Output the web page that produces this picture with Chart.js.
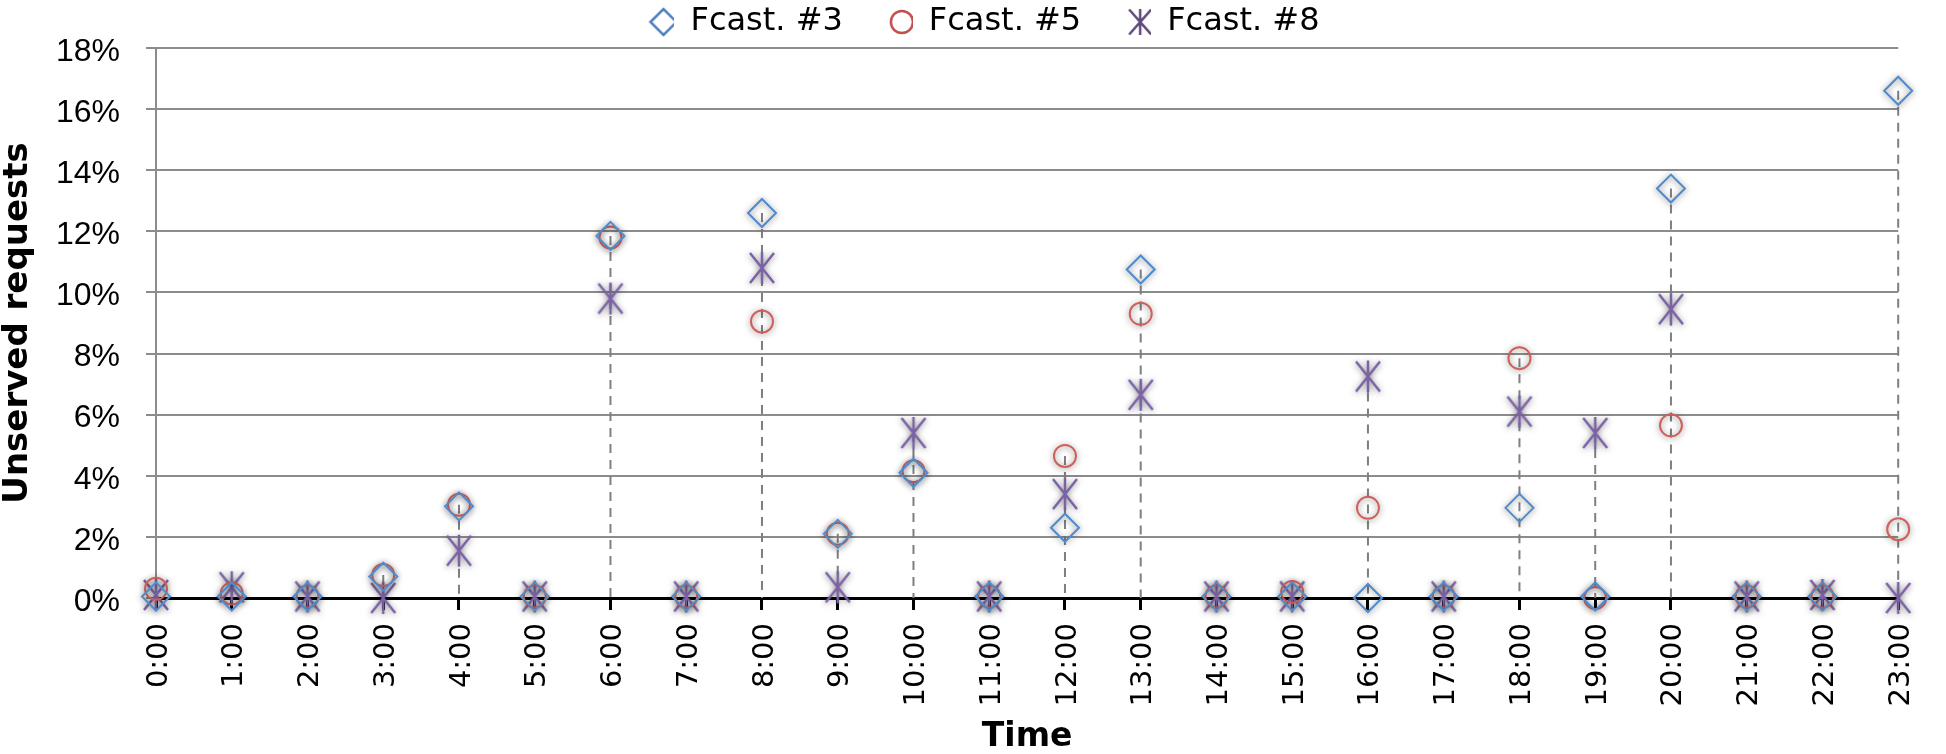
<!DOCTYPE html>
<html>
<head>
<meta charset="utf-8">
<script src="https://cdn.jsdelivr.net/npm/chart.js@4.4.1/dist/chart.umd.min.js"></script>
<style>
html,body{margin:0;padding:0;background:#ffffff;}
#wrap{width:1946px;height:754px;position:relative;}
</style>
</head>
<body>
<div id="wrap"><canvas id="c" width="1946" height="754"></canvas></div>
<script>
// ---- data (percent of unserved requests) ----
const hours = ['0:00','1:00','2:00','3:00','4:00','5:00','6:00','7:00','8:00','9:00','10:00','11:00',
               '12:00','13:00','14:00','15:00','16:00','17:00','18:00','19:00','20:00','21:00','22:00','23:00'];
const fcast3 = [0.05, 0.05, 0.05, 0.7, 3.0, 0.05, 11.85, 0.05, 12.6, 2.1, 4.1, 0.05,
                2.3, 10.75, 0.05, 0.05, 0.0, 0.05, 2.95, 0.05, 13.4, 0.05, 0.05, 16.6];
const fcast5 = [0.3, 0.15, 0.05, 0.75, 3.05, 0.05, 11.8, 0.05, 9.05, 2.1, 4.15, 0.05,
                4.65, 9.3, 0.05, 0.2, 2.95, 0.05, 7.85, 0.0, 5.65, 0.05, 0.05, 2.25];
const fcast8 = [0.1, 0.35, 0.05, 0.0, 1.55, 0.05, 9.8, 0.05, 10.8, 0.35, 5.4, 0.05,
                3.4, 6.65, 0.05, 0.05, 7.25, 0.05, 6.1, 5.4, 9.45, 0.05, 0.1, 0.0];
const seriesNames = ['Fcast. #3', 'Fcast. #5', 'Fcast. #8'];
const yMin = 0, yMax = 18, yStep = 2;
const xTitle = 'Time';
const yTitle = 'Unserved requests';

// ---- marker images ----
function makeStar(w, h, color, lw) {
  const c = document.createElement('canvas'); c.width = w; c.height = h;
  const g = c.getContext('2d');
  g.strokeStyle = color; g.lineWidth = lw;
  g.beginPath();
  g.moveTo(3, 2); g.lineTo(w - 3, h - 2);
  g.moveTo(w - 3, 2); g.lineTo(3, h - 2);
  g.moveTo(w / 2, 1); g.lineTo(w / 2, h - 1);
  g.stroke();
  return c;
}
function legendIcon(kind, color) {
  const c = document.createElement('canvas'); c.width = 68; c.height = 34;
  const g = c.getContext('2d');
  const cx = 57, cy = 17;
  g.strokeStyle = color; g.lineWidth = 2.5;
  g.beginPath();
  if (kind === 'diamond') {
    g.moveTo(cx - 13, cy); g.lineTo(cx, cy - 13); g.lineTo(cx + 13, cy); g.lineTo(cx, cy + 13); g.closePath();
  } else if (kind === 'circle') {
    g.arc(cx, cy, 11, 0, Math.PI * 2);
  } else {
    g.moveTo(cx - 11, cy - 12.5); g.lineTo(cx + 11, cy + 12.5);
    g.moveTo(cx + 11, cy - 12.5); g.lineTo(cx - 11, cy + 12.5);
    g.moveTo(cx, cy - 13); g.lineTo(cx, cy + 13);
  }
  g.stroke();
  return c;
}
const starImg = makeStar(30, 34, '#7B62A6', 2.5);
const legendIcons = [legendIcon('diamond', '#4F81BD'), legendIcon('circle', '#C0504D'), legendIcon('star', '#5F497A')];

// ---- plugin: drop lines + marker shadow ----
const dropAndShadow = {
  id: 'dropAndShadow',
  beforeDatasetsDraw(chart) {
    const ctx = chart.ctx, xs = chart.scales.x, ys = chart.scales.y;
    ctx.save();
    ctx.strokeStyle = '#7f7f7f';
    ctx.lineWidth = 2;
    ctx.setLineDash([9, 7]);
    hours.forEach((h, i) => {
      const top = Math.max(fcast3[i], fcast5[i], fcast8[i]);
      if (top <= 0) return;
      const px = xs.getPixelForValue(i);
      ctx.beginPath();
      ctx.moveTo(px, ys.getPixelForValue(top));
      ctx.lineTo(px, ys.getPixelForValue(0));
      ctx.stroke();
    });
    ctx.restore();
    ctx.save();
    ctx.shadowColor = 'rgba(0,0,0,0.5)';
    ctx.shadowBlur = 6;
    ctx.shadowOffsetX = 0;
    ctx.shadowOffsetY = 1;
  },
  afterDatasetsDraw(chart) {
    chart.ctx.restore();
  }
};

const yTickValues = [];
for (let v = yMin; v <= yMax; v += yStep) yTickValues.push(v);

new Chart(document.getElementById('c'), {
  type: 'line',
  data: {
    labels: hours,
    datasets: [
      { label: seriesNames[0], data: fcast3, showLine: false, clip: false, pointStyle: 'rectRot', pointRadius: 14,
        pointBorderWidth: 2, pointBorderColor: '#4F8BCB', pointBackgroundColor: 'rgba(255,255,255,0)' },
      { label: seriesNames[1], data: fcast5, showLine: false, clip: false, pointStyle: 'circle', pointRadius: 11,
        pointBorderWidth: 2, pointBorderColor: '#D0605C', pointBackgroundColor: 'rgba(255,255,255,0)' },
      { label: seriesNames[2], data: fcast8, showLine: false, clip: false, pointStyle: starImg, pointRadius: 14,
        pointBorderWidth: 0, pointBorderColor: '#7B62A6', pointBackgroundColor: 'rgba(255,255,255,0)' }
    ]
  },
  options: {
    responsive: false,
    animation: false,
    events: [],
    layout: { padding: { left: 0, right: 20, top: 0, bottom: 0 } },
    plugins: {
      tooltip: { enabled: false },
      legend: {
        display: true,
        position: 'top',
        align: 'center',
        labels: {
          usePointStyle: true,
          pointStyleWidth: 68,
          padding: 2,
          color: '#000000',
          font: { family: 'DejaVu Sans', size: 32 },
          generateLabels: () => seriesNames.map((name, i) => ({
            text: name, pointStyle: legendIcons[i], fillStyle: 'rgba(0,0,0,0)', strokeStyle: 'rgba(0,0,0,0)',
            lineWidth: 1, hidden: false, datasetIndex: i, fontColor: '#000000'
          }))
        }
      }
    },
    scales: {
      x: {
        type: 'category',
        offset: false,
        grid: { display: true, drawOnChartArea: false, drawTicks: true, tickLength: 12, color: '#000000', lineWidth: 3 },
        border: { display: true, color: '#000000', width: 3 },
        ticks: {
          autoSkip: false, maxRotation: 90, minRotation: 90, padding: 13, labelOffset: 3,
          color: '#000000', font: { family: 'DejaVu Sans', size: 29 }
        },
        title: {
          display: true, text: xTitle, color: '#000000',
          font: { family: 'DejaVu Sans', size: 33, weight: 'bold', lineHeight: 1 },
          padding: { top: 0, bottom: 0 }
        },
        afterFit: (s) => { s.height = 156; }
      },
      y: {
        min: yMin, max: yMax,
        afterBuildTicks: (s) => { s.ticks = yTickValues.map(v => ({ value: v })); },
        grid: { color: '#8c8c8c', lineWidth: 2, tickLength: 10, drawTicks: true },
        border: { display: true, color: '#8c8c8c', width: 2 },
        ticks: {
          padding: 26, labelOffset: 4, color: '#000000',
          font: { family: 'Liberation Sans', size: 32 },
          callback: (v) => v + '%'
        },
        title: {
          display: true, text: yTitle, color: '#000000',
          font: { family: 'DejaVu Sans', size: 34, weight: 'bold', lineHeight: 1 },
          padding: { top: 1, bottom: 0 }
        },
        afterFit: (s) => { s.width = 156; s.paddingTop = 48; }
      }
    }
  },
  plugins: [dropAndShadow]
});
</script>
</body>
</html>
